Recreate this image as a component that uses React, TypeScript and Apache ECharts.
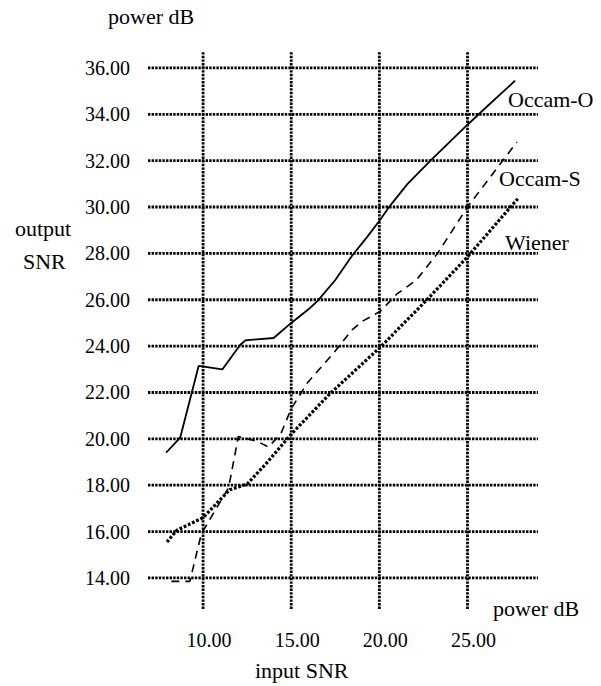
import React, { useEffect, useRef } from "react";
import * as echarts from "echarts";

const xTicks = [10, 15, 20, 25];
const yTicks = [14, 16, 18, 20, 22, 24, 26, 28, 30, 32, 34, 36];
const xRange = [6.875, 29.0];
const yRange = [12.66, 36.73];

const occamO: number[][] = [
  [7.9, 19.4], [8.7, 20.05], [9.75, 23.15], [11.1, 23.0], [12.1, 24.05], [12.4, 24.25],
  [14.0, 24.35], [15.0, 25.0], [16.0, 25.6], [16.5, 25.95], [17.5, 26.85], [18.45, 27.9],
  [19.3, 28.7], [20.05, 29.45], [20.5, 29.95], [21.6, 31.0], [22.9, 32.0], [25.0, 33.55],
  [26.2, 34.4], [27.7, 35.45],
];
const occamS: number[][] = [
  [8.2, 13.85], [9.25, 13.85], [9.9, 15.9], [11.45, 17.9], [12.0, 20.1], [13.05, 19.9],
  [13.7, 19.65], [14.4, 20.2], [15.0, 21.3], [15.9, 22.4], [17.4, 23.7], [18.45, 24.7],
  [19.1, 25.1], [20.05, 25.5], [21.0, 26.25], [22.1, 26.85], [23.3, 28.0], [25.0, 30.0],
  [27.8, 32.8],
];
const wiener: number[][] = [
  [7.95, 15.55], [8.5, 16.05], [10.0, 16.6], [11.5, 17.8], [12.5, 18.05], [13.6, 18.95],
  [15.0, 20.2], [17.2, 21.95], [20.05, 23.95], [22.7, 26.0], [25.0, 27.85], [27.9, 30.4],
];

const seriesNames = ["Occam-O", "Occam-S", "Wiener"];
const yAxisTitle = ["power dB", "output", "SNR"];
const xAxisTitle = ["power dB", "input SNR"];

const SERIF = "'Liberation Serif', 'DejaVu Serif', serif";

export default function App() {
  const ref = useRef<HTMLDivElement>(null);
  useEffect(() => {
    document.body.style.margin = "0";
    if (!ref.current) return;
    const chart = echarts.init(ref.current, undefined, { renderer: "svg" });
    const gridStyle = { color: "#000", width: 2.8, type: [2.4, 1.2] as any };
    const gridSeries: any[] = [];
    yTicks.forEach((y) =>
      gridSeries.push({
        type: "line", silent: true, symbol: "none", z: 1,
        data: [[xRange[0], y], [xRange[1], y]],
        lineStyle: gridStyle,
      })
    );
    xTicks.forEach((x) =>
      gridSeries.push({
        type: "line", silent: true, symbol: "none", z: 1,
        data: [[x, yRange[0]], [x, yRange[1]]],
        lineStyle: gridStyle,
      })
    );
    const text = (t: string, x: number, y: number, size = 22) => ({
      type: "text", x, y,
      style: { text: t, fill: "#000", font: `${size}px ${SERIF}`, textAlign: "left", textVerticalAlign: "middle" },
    });
    chart.setOption({
      animation: false,
      backgroundColor: "#fff",
      grid: { left: 148, right: 63, top: 51, bottom: 77, containLabel: false },
      xAxis: {
        type: "value", min: xRange[0], max: xRange[1],
        axisLine: { show: false }, axisTick: { show: false }, splitLine: { show: false },
        axisLabel: {
          customValues: xTicks, margin: 21, color: "#000",
          fontFamily: SERIF, fontSize: 20, padding: [0, 0, 0, 12],
          formatter: (v: number) => v.toFixed(2),
        },
      },
      yAxis: {
        type: "value", min: yRange[0], max: yRange[1],
        axisLine: { show: false }, axisTick: { show: false }, splitLine: { show: false },
        axisLabel: {
          customValues: yTicks, margin: 18, color: "#000",
          fontFamily: SERIF, fontSize: 20,
          formatter: (v: number) => v.toFixed(2),
        },
      },
      series: [
        ...gridSeries,
        {
          name: seriesNames[0], type: "line", data: occamO, symbol: "none", z: 3,
          lineStyle: { color: "#000", width: 1.8, type: "solid" },
        },
        {
          name: seriesNames[1], type: "line", data: occamS, symbol: "none", z: 3,
          lineStyle: { color: "#000", width: 1.6, type: [8, 6] },
        },
        {
          name: seriesNames[2], type: "line", data: wiener, symbol: "none", z: 3,
          lineStyle: { color: "#000", width: 3.2, type: [2.8, 1.8] },
        },
      ],
      graphic: [
        text(yAxisTitle[0], 108, 16),
        text(yAxisTitle[1], 15, 228),
        text(yAxisTitle[2], 23, 261),
        text(xAxisTitle[0], 493, 608),
        text(xAxisTitle[1], 255, 670),
        text(seriesNames[0], 508, 99),
        text(seriesNames[1], 499, 178),
        text(seriesNames[2], 505, 242),
      ],
    });
    return () => chart.dispose();
  }, []);
  return <div ref={ref} style={{ width: 601, height: 686 }} />;
}
